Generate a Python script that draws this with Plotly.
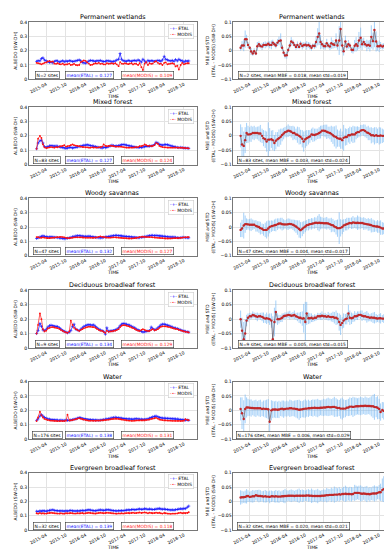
import plotly.graph_objects as go
import pandas as pd

# ---------------- data (semi-monthly, 2015-01 .. 2018-11) ----------------
dates = pd.date_range("2015-01-01", periods=94, freq="SMS")

titles = ["Permanent wetlands", "Mixed forest", "Woody savannas",
          "Deciduous broadleaf forest", "Water", "Evergreen broadleaf forest"]
n_sites = [2, 83, 47, 9, 176, 32]
mean_etal_lbl = ["0.127", "0.127", "0.132", "0.134", "0.138", "0.139"]
mean_modis_lbl = ["0.109", "0.124", "0.127", "0.129", "0.131", "0.118"]
mean_mbe_lbl = ["0.018", "0.003", "0.004", "0.005", "0.006", "0.020"]
mean_std_lbl = ["0.019", "0.024", "0.017", "0.015", "0.029", "0.021"]
x_tick_vals = ["2015-04-01", "2015-10-01", "2016-04-01", "2016-10-01",
               "2017-04-01", "2017-10-01", "2018-04-01", "2018-10-01"]
x_tick_text = ["2015-04", "2015-10", "2016-04", "2016-10",
               "2017-04", "2017-10", "2018-04", "2018-10"]

wet_etal = [0.125,0.130,0.128,0.145,0.150,0.135,0.128,0.122,0.118,0.120,0.115,0.125,0.130,0.128,0.120,0.125,0.130,0.122,0.128,0.125,0.130,0.128,0.124,0.126,
            0.128,0.132,0.135,0.130,0.118,0.115,0.112,0.120,0.128,0.132,0.130,0.128,0.125,0.130,0.128,0.132,0.126,0.124,0.125,0.130,0.128,0.126,0.122,0.125,
            0.128,0.135,0.140,0.180,0.140,0.130,0.128,0.125,0.132,0.128,0.126,0.130,0.132,0.128,0.135,0.130,0.120,0.140,0.128,0.118,0.132,0.126,0.130,0.128,
            0.125,0.128,0.132,0.130,0.126,0.135,0.160,0.140,0.135,0.130,0.128,0.132,0.125,0.138,0.128,0.140,0.132,0.130,0.120,0.128,0.126,0.128]
wet_modis = [0.115,0.112,0.110,0.105,0.110,0.115,0.118,0.125,0.128,0.122,0.125,0.110,0.108,0.112,0.106,0.105,0.110,0.102,0.104,0.105,0.110,0.100,0.102,0.108,
             0.100,0.098,0.100,0.120,0.125,0.132,0.128,0.118,0.110,0.100,0.102,0.108,0.112,0.110,0.115,0.108,0.110,0.105,0.104,0.112,0.108,0.110,0.112,0.108,
             0.112,0.105,0.092,0.120,0.110,0.108,0.112,0.110,0.106,0.110,0.112,0.104,0.110,0.108,0.100,0.112,0.085,0.065,0.110,0.120,0.100,0.112,0.108,0.110,
             0.122,0.126,0.115,0.108,0.110,0.100,0.115,0.118,0.105,0.108,0.110,0.112,0.108,0.090,0.095,0.068,0.100,0.115,0.105,0.110,0.112,0.112]
wet_std = [0.010,0.015,0.020,0.030,0.015,0.010,0.005,0.012,0.008,0.010,0.006,0.015,0.010,0.008,0.012,0.010,0.012,0.008,0.010,0.012,0.015,0.010,0.008,0.010,
           0.012,0.015,0.025,0.010,0.008,0.010,0.012,0.008,0.010,0.015,0.010,0.008,0.010,0.012,0.008,0.010,0.012,0.010,0.008,0.015,0.010,0.012,0.010,0.008,
           0.010,0.020,0.030,0.040,0.025,0.015,0.010,0.012,0.015,0.010,0.012,0.020,0.015,0.010,0.025,0.015,0.050,0.060,0.025,0.015,0.020,0.012,0.015,0.010,
           0.010,0.012,0.020,0.025,0.015,0.030,0.035,0.020,0.015,0.012,0.020,0.015,0.020,0.040,0.030,0.060,0.035,0.015,0.020,0.012,0.010,0.010]

mix_etal = [0.110,0.150,0.165,0.170,0.150,0.125,0.120,0.125,0.130,0.132,0.130,0.128,0.130,0.128,0.125,0.120,0.118,0.115,0.112,0.115,0.118,0.120,0.115,0.118,
            0.120,0.122,0.125,0.128,0.130,0.135,0.135,0.138,0.135,0.132,0.130,0.128,0.125,0.122,0.120,0.118,0.115,0.120,0.118,0.120,0.125,0.130,0.135,0.132,
            0.128,0.130,0.132,0.135,0.138,0.140,0.138,0.135,0.132,0.130,0.128,0.125,0.122,0.120,0.118,0.120,0.118,0.122,0.125,0.128,0.126,0.128,0.130,0.132,
            0.140,0.155,0.150,0.140,0.138,0.135,0.138,0.140,0.138,0.135,0.130,0.128,0.125,0.122,0.120,0.118,0.120,0.118,0.116,0.115,0.114,0.113]
mix_modis = [0.110,0.180,0.200,0.185,0.140,0.120,0.115,0.118,0.120,0.122,0.120,0.118,0.122,0.120,0.125,0.128,0.130,0.135,0.125,0.128,0.130,0.135,0.140,0.135,
             0.132,0.130,0.128,0.125,0.122,0.122,0.120,0.120,0.118,0.118,0.120,0.118,0.120,0.118,0.120,0.122,0.125,0.140,0.130,0.128,0.130,0.132,0.130,0.128,
             0.125,0.125,0.125,0.125,0.125,0.122,0.120,0.118,0.118,0.118,0.118,0.118,0.120,0.122,0.122,0.128,0.128,0.132,0.140,0.135,0.130,0.132,0.128,0.130,
             0.135,0.150,0.145,0.130,0.125,0.122,0.120,0.120,0.118,0.118,0.118,0.118,0.118,0.120,0.118,0.118,0.118,0.118,0.116,0.114,0.114,0.113]
mix_std = [0.040,0.060,0.050,0.045,0.035,0.030,0.025,0.028,0.022,0.025,0.020,0.022,0.025,0.030,0.025,0.028,0.030,0.035,0.060,0.040,0.030,0.035,0.028,0.030,
           0.025,0.030,0.028,0.022,0.020,0.018,0.020,0.022,0.018,0.020,0.025,0.022,0.020,0.028,0.030,0.025,0.030,0.035,0.030,0.028,0.025,0.022,0.020,0.025,
           0.022,0.020,0.018,0.020,0.022,0.018,0.020,0.022,0.025,0.020,0.022,0.028,0.030,0.035,0.040,0.030,0.028,0.035,0.030,0.045,0.030,0.028,0.025,0.030,
           0.025,0.030,0.028,0.022,0.020,0.018,0.020,0.018,0.020,0.022,0.020,0.025,0.022,0.028,0.025,0.030,0.028,0.025,0.030,0.028,0.025,0.022]

wsv_etal = [0.120,0.125,0.130,0.135,0.138,0.135,0.132,0.130,0.130,0.132,0.130,0.128,0.128,0.126,0.124,0.122,0.120,0.118,0.120,0.122,0.125,0.128,0.132,0.135,
            0.138,0.140,0.140,0.138,0.136,0.135,0.134,0.135,0.136,0.135,0.132,0.130,0.128,0.126,0.125,0.124,0.125,0.128,0.130,0.132,0.134,0.136,0.138,0.140,
            0.142,0.142,0.140,0.140,0.138,0.136,0.135,0.134,0.133,0.132,0.130,0.128,0.128,0.126,0.125,0.126,0.128,0.130,0.132,0.135,0.138,0.140,0.142,0.142,
            0.140,0.142,0.140,0.138,0.138,0.136,0.135,0.134,0.132,0.131,0.130,0.130,0.130,0.128,0.126,0.125,0.126,0.128,0.128,0.126,0.125,0.125]
wsv_modis = [0.130,0.130,0.125,0.125,0.128,0.126,0.124,0.122,0.122,0.124,0.126,0.126,0.128,0.130,0.130,0.132,0.130,0.128,0.125,0.122,0.122,0.124,0.126,0.128,
             0.128,0.128,0.128,0.128,0.127,0.126,0.125,0.125,0.125,0.125,0.124,0.125,0.126,0.128,0.132,0.135,0.132,0.130,0.128,0.126,0.126,0.126,0.127,0.128,
             0.128,0.127,0.126,0.125,0.124,0.122,0.122,0.121,0.120,0.120,0.120,0.121,0.122,0.124,0.126,0.130,0.132,0.133,0.132,0.130,0.130,0.130,0.130,0.128,
             0.127,0.126,0.125,0.124,0.123,0.122,0.121,0.120,0.120,0.120,0.120,0.121,0.122,0.122,0.122,0.122,0.124,0.126,0.128,0.128,0.130,0.130]
wsv_std = [0.025,0.030,0.045,0.030,0.020,0.018,0.020,0.022,0.018,0.015,0.020,0.018,0.020,0.022,0.018,0.020,0.025,0.030,0.028,0.022,0.020,0.018,0.020,0.022,
           0.020,0.018,0.020,0.022,0.018,0.015,0.018,0.020,0.018,0.016,0.018,0.020,0.022,0.025,0.030,0.028,0.025,0.022,0.020,0.018,0.020,0.018,0.020,0.018,
           0.020,0.018,0.025,0.030,0.022,0.020,0.018,0.020,0.022,0.018,0.020,0.025,0.022,0.020,0.025,0.030,0.055,0.030,0.025,0.022,0.020,0.022,0.020,0.018,
           0.020,0.022,0.018,0.020,0.025,0.022,0.020,0.018,0.022,0.020,0.018,0.022,0.020,0.025,0.022,0.020,0.018,0.022,0.020,0.025,0.022,0.020]

dbf_etal = [0.100,0.120,0.170,0.150,0.125,0.120,0.130,0.145,0.155,0.158,0.155,0.150,0.150,0.148,0.140,0.130,0.120,0.115,0.110,0.105,0.110,0.120,0.150,0.165,
            0.130,0.125,0.120,0.130,0.140,0.150,0.155,0.160,0.162,0.160,0.158,0.160,0.150,0.140,0.130,0.125,0.120,0.115,0.095,0.140,0.115,0.118,0.120,0.120,
            0.125,0.130,0.140,0.155,0.165,0.170,0.168,0.165,0.160,0.158,0.150,0.145,0.140,0.130,0.125,0.120,0.115,0.110,0.112,0.115,0.118,0.120,0.145,0.135,
            0.125,0.130,0.140,0.150,0.160,0.165,0.165,0.162,0.158,0.155,0.150,0.145,0.140,0.138,0.135,0.130,0.125,0.120,0.118,0.115,0.112,0.110]
dbf_modis = [0.100,0.160,0.240,0.200,0.130,0.115,0.120,0.135,0.140,0.145,0.145,0.142,0.140,0.138,0.132,0.125,0.118,0.112,0.108,0.105,0.115,0.190,0.160,0.140,
             0.130,0.125,0.118,0.125,0.130,0.138,0.142,0.145,0.148,0.148,0.145,0.145,0.140,0.132,0.125,0.120,0.118,0.112,0.105,0.120,0.112,0.115,0.115,0.118,
             0.120,0.125,0.130,0.145,0.155,0.158,0.158,0.155,0.152,0.148,0.142,0.138,0.132,0.125,0.120,0.118,0.125,0.130,0.125,0.120,0.118,0.118,0.125,0.130,
             0.122,0.125,0.130,0.140,0.148,0.150,0.150,0.150,0.148,0.145,0.142,0.138,0.135,0.132,0.130,0.125,0.122,0.118,0.115,0.112,0.110,0.108]
dbf_std = [0.030,0.045,0.060,0.050,0.020,0.015,0.012,0.010,0.012,0.010,0.012,0.015,0.010,0.012,0.015,0.018,0.015,0.020,0.015,0.020,0.025,0.080,0.050,0.040,
           0.020,0.015,0.012,0.015,0.010,0.012,0.010,0.012,0.015,0.010,0.012,0.015,0.012,0.015,0.018,0.020,0.025,0.050,0.070,0.040,0.020,0.018,0.015,0.012,
           0.012,0.010,0.012,0.010,0.012,0.015,0.010,0.012,0.010,0.015,0.012,0.015,0.018,0.020,0.025,0.020,0.030,0.035,0.020,0.025,0.018,0.020,0.030,0.025,
           0.020,0.015,0.018,0.012,0.015,0.012,0.015,0.018,0.012,0.015,0.020,0.015,0.012,0.015,0.018,0.020,0.015,0.012,0.015,0.018,0.012,0.015]

wat_etal = [0.130,0.140,0.160,0.170,0.160,0.150,0.145,0.140,0.138,0.135,0.135,0.133,0.133,0.132,0.130,0.132,0.130,0.130,0.132,0.130,0.130,0.133,0.135,0.138,
            0.140,0.145,0.150,0.148,0.142,0.140,0.138,0.136,0.135,0.135,0.134,0.133,0.132,0.132,0.130,0.132,0.134,0.136,0.138,0.140,0.142,0.145,0.148,0.150,
            0.152,0.150,0.148,0.146,0.145,0.143,0.142,0.140,0.140,0.140,0.138,0.138,0.140,0.142,0.140,0.138,0.138,0.136,0.136,0.138,0.140,0.145,0.150,0.155,
            0.158,0.160,0.155,0.150,0.148,0.146,0.145,0.145,0.144,0.144,0.143,0.142,0.142,0.140,0.140,0.138,0.136,0.135,0.133,0.132,0.133,0.130]
wat_modis = [0.125,0.150,0.190,0.165,0.150,0.140,0.136,0.132,0.130,0.128,0.128,0.126,0.126,0.125,0.125,0.126,0.125,0.125,0.128,0.170,0.130,0.130,0.132,0.135,
             0.138,0.142,0.145,0.142,0.138,0.135,0.132,0.130,0.128,0.128,0.128,0.127,0.127,0.128,0.128,0.129,0.130,0.131,0.132,0.134,0.135,0.138,0.140,0.142,
             0.143,0.142,0.140,0.138,0.136,0.134,0.132,0.130,0.129,0.128,0.127,0.127,0.128,0.130,0.130,0.130,0.130,0.130,0.130,0.132,0.134,0.136,0.140,0.142,
             0.145,0.148,0.142,0.136,0.134,0.132,0.130,0.130,0.129,0.128,0.128,0.127,0.127,0.126,0.126,0.126,0.125,0.126,0.128,0.138,0.132,0.132]
wat_std = [0.040,0.055,0.065,0.050,0.035,0.030,0.028,0.030,0.025,0.028,0.030,0.025,0.028,0.030,0.025,0.028,0.030,0.032,0.035,0.045,0.035,0.030,0.028,0.030,
           0.028,0.030,0.025,0.028,0.030,0.026,0.028,0.025,0.030,0.028,0.026,0.028,0.030,0.032,0.035,0.030,0.028,0.030,0.032,0.028,0.030,0.026,0.028,0.030,
           0.028,0.030,0.032,0.028,0.026,0.028,0.030,0.028,0.030,0.032,0.030,0.028,0.030,0.035,0.032,0.030,0.028,0.035,0.038,0.032,0.030,0.028,0.030,0.032,
           0.030,0.035,0.032,0.030,0.028,0.030,0.032,0.030,0.028,0.032,0.030,0.028,0.030,0.035,0.040,0.045,0.035,0.040,0.035,0.030,0.028,0.030]

ebf_etal = [0.132,0.130,0.135,0.132,0.136,0.134,0.132,0.135,0.138,0.140,0.142,0.138,0.136,0.135,0.133,0.135,0.134,0.132,0.135,0.133,0.136,0.138,0.135,0.134,
            0.133,0.135,0.134,0.136,0.138,0.135,0.137,0.140,0.142,0.140,0.138,0.136,0.135,0.138,0.140,0.142,0.140,0.138,0.140,0.143,0.142,0.140,0.138,0.136,
            0.135,0.134,0.136,0.135,0.137,0.136,0.138,0.140,0.142,0.140,0.143,0.145,0.142,0.144,0.146,0.148,0.145,0.146,0.150,0.148,0.145,0.148,0.146,0.144,
            0.145,0.148,0.150,0.152,0.148,0.146,0.148,0.145,0.144,0.142,0.140,0.142,0.140,0.143,0.145,0.148,0.150,0.148,0.152,0.150,0.160,0.168]
ebf_modis = [0.118,0.115,0.120,0.116,0.118,0.115,0.116,0.118,0.120,0.122,0.120,0.118,0.117,0.116,0.115,0.118,0.116,0.115,0.118,0.117,0.118,0.120,0.118,0.116,
             0.116,0.118,0.117,0.118,0.120,0.116,0.118,0.120,0.122,0.120,0.118,0.117,0.115,0.118,0.120,0.122,0.120,0.118,0.120,0.122,0.121,0.120,0.118,0.117,
             0.116,0.115,0.117,0.116,0.118,0.116,0.118,0.119,0.120,0.118,0.120,0.122,0.119,0.120,0.122,0.124,0.120,0.122,0.124,0.122,0.118,0.122,0.120,0.118,
             0.120,0.122,0.120,0.122,0.118,0.116,0.120,0.118,0.116,0.115,0.114,0.116,0.115,0.116,0.117,0.120,0.122,0.118,0.120,0.118,0.120,0.125]
ebf_std = [0.025,0.022,0.020,0.022,0.025,0.020,0.018,0.020,0.022,0.020,0.018,0.020,0.022,0.020,0.018,0.020,0.022,0.020,0.018,0.022,0.020,0.018,0.020,0.022,
           0.020,0.022,0.018,0.020,0.022,0.025,0.020,0.018,0.020,0.022,0.020,0.018,0.020,0.022,0.025,0.020,0.022,0.020,0.018,0.020,0.022,0.020,0.025,0.022,
           0.020,0.022,0.025,0.020,0.018,0.020,0.022,0.020,0.025,0.022,0.020,0.025,0.022,0.028,0.025,0.022,0.025,0.020,0.022,0.025,0.028,0.025,0.022,0.025,
           0.025,0.022,0.028,0.025,0.022,0.025,0.028,0.025,0.022,0.025,0.028,0.022,0.025,0.022,0.025,0.028,0.025,0.022,0.025,0.030,0.040,0.045]

panels = [(wet_etal, wet_modis, wet_std), (mix_etal, mix_modis, mix_std),
          (wsv_etal, wsv_modis, wsv_std), (dbf_etal, dbf_modis, dbf_std),
          (wat_etal, wat_modis, wat_std), (ebf_etal, ebf_modis, ebf_std)]

# ---------------- layout geometry ----------------
W, H = 392, 550
TOPS = [12, 98, 190, 283, 375, 467]
PH = 58
LX = (20 / W, 188 / W)
RX = (225 / W, 383 / W)
FONT = "DejaVu Sans"
XRANGE = ["2014-10-22", "2019-01-26"]

fig = go.Figure()
layout = dict(width=W, height=H, margin=dict(l=0, r=0, t=0, b=0),
              paper_bgcolor="white", plot_bgcolor="white", showlegend=False,
              font=dict(family=FONT, size=5, color="black"))
annotations = []

def axname(i):
    return ("x", "y") if i == 1 else (f"x{i}", f"y{i}")

for k, (etal, modis, std) in enumerate(panels):
    ydom = [1 - (TOPS[k] + PH) / H, 1 - TOPS[k] / H]
    mbe = [e - m for e, m in zip(etal, modis)]
    for side in (0, 1):
        i = 2 * k + 1 + side
        xn, yn = axname(i)
        xkey = "xaxis" if i == 1 else f"xaxis{i}"
        ykey = "yaxis" if i == 1 else f"yaxis{i}"
        layout[xkey] = dict(domain=list(LX if side == 0 else RX), anchor=yn, type="date",
                            range=XRANGE, tickvals=x_tick_vals, ticktext=x_tick_text,
                            tickangle=-27, tickfont=dict(size=4.4), showgrid=True,
                            gridcolor="#e3e3e3", gridwidth=0.6, showline=True, mirror=True,
                            linecolor="#777", linewidth=0.6, zeroline=False, ticks="")
        # x-axis title, placed just under the rotated tick labels
        annotations.append(dict(xref=f"{xn} domain", yref=f"{yn} domain", x=0.5, y=0,
                                xanchor="center", yanchor="top", yshift=-13.5, showarrow=False,
                                borderpad=0, text="TIME", font=dict(size=4.6)))
        if side == 0:
            layout[ykey] = dict(domain=ydom, anchor=xn, range=[0, 0.4], dtick=0.1,
                                tickfont=dict(size=4.6), showgrid=True, gridcolor="#e3e3e3",
                                gridwidth=0.6, showline=True, mirror=True, linecolor="#777",
                                linewidth=0.6, zeroline=False, ticks="",
                                title=dict(text="ALBEDO (SW-DH)", font=dict(size=4.4), standoff=2))
            fig.add_trace(go.Scatter(x=dates, y=etal, mode="lines+markers", name="ETAL",
                                     line=dict(color="#1010ff", width=0.7),
                                     marker=dict(size=2.2, color="#1010ff", symbol="cross-thin",
                                                 line=dict(width=0.6, color="#1010ff")),
                                     xaxis=xn, yaxis=yn))
            fig.add_trace(go.Scatter(x=dates, y=modis, mode="lines+markers", name="MODIS",
                                     line=dict(color="#ff1010", width=0.7),
                                     marker=dict(size=1.8, color="#ff1010"),
                                     xaxis=xn, yaxis=yn))
            # legend box
            annotations.append(dict(xref=f"{xn} domain", yref=f"{yn} domain", x=0.985, y=0.97,
                                    xanchor="right", yanchor="top", align="left", showarrow=False,
                                    text="<span style='color:#1010ff'>-+-</span> ETAL<br>"
                                         "<span style='color:#ff1010'>-•-</span> MODIS",
                                    font=dict(size=4.4), bordercolor="#cccccc", borderwidth=0.6,
                                    borderpad=1.5, bgcolor="white"))
            for xpos, txt, col in [(0.11, f"N={n_sites[k]} sites", "black"),
                                   (0.36, f"mean(ETAL) = {mean_etal_lbl[k]}", "#1010ff"),
                                   (0.71, f"mean(MODIS) = {mean_modis_lbl[k]}", "#ff1010")]:
                annotations.append(dict(xref=f"{xn} domain", yref=f"{yn} domain", x=xpos, y=0.075,
                                        xanchor="center", yanchor="middle", showarrow=False,
                                        text=txt, font=dict(size=4.4, color=col),
                                        bordercolor="#333", borderwidth=0.6, borderpad=1,
                                        bgcolor="white"))
        else:
            layout[ykey] = dict(domain=ydom, anchor=xn, range=[-0.1, 0.1], dtick=0.05,
                                tickfont=dict(size=4.6), showgrid=True, gridcolor="#e3e3e3",
                                gridwidth=0.6, showline=True, mirror=True, linecolor="#777",
                                linewidth=0.6, zeroline=False, ticks="",
                                title=dict(text="MBE and STD<br>(ETAL - MODIS) (SW-DH)",
                                           font=dict(size=4.4), standoff=2))
            fig.add_trace(go.Scatter(x=dates, y=mbe, mode="lines+markers", name="MBE",
                                     line=dict(color="#4a2020", width=0.5),
                                     marker=dict(size=2.4, color="#c0282a"),
                                     error_y=dict(type="data", array=std, visible=True,
                                                  color="rgba(120,185,245,0.75)", thickness=0.9,
                                                  width=0),
                                     xaxis=xn, yaxis=yn))
            annotations.append(dict(xref=f"{xn} domain", yref=f"{yn} domain", x=0.38, y=0.075,
                                    xanchor="center", yanchor="middle", showarrow=False,
                                    text=f"N={n_sites[k]} sites, mean MBE = {mean_mbe_lbl[k]}, "
                                         f"mean std={mean_std_lbl[k]}",
                                    font=dict(size=4.4), bordercolor="#333", borderwidth=0.6,
                                    borderpad=1, bgcolor="white"))
        annotations.append(dict(xref=f"{xn} domain", yref=f"{yn} domain", x=0.5, y=1.0,
                                xanchor="center", yanchor="bottom", showarrow=False,
                                text=titles[k], font=dict(size=6.4, color="black"), yshift=-1))

layout["annotations"] = annotations
fig.update_layout(**layout)
fig.write_html("out.html")
